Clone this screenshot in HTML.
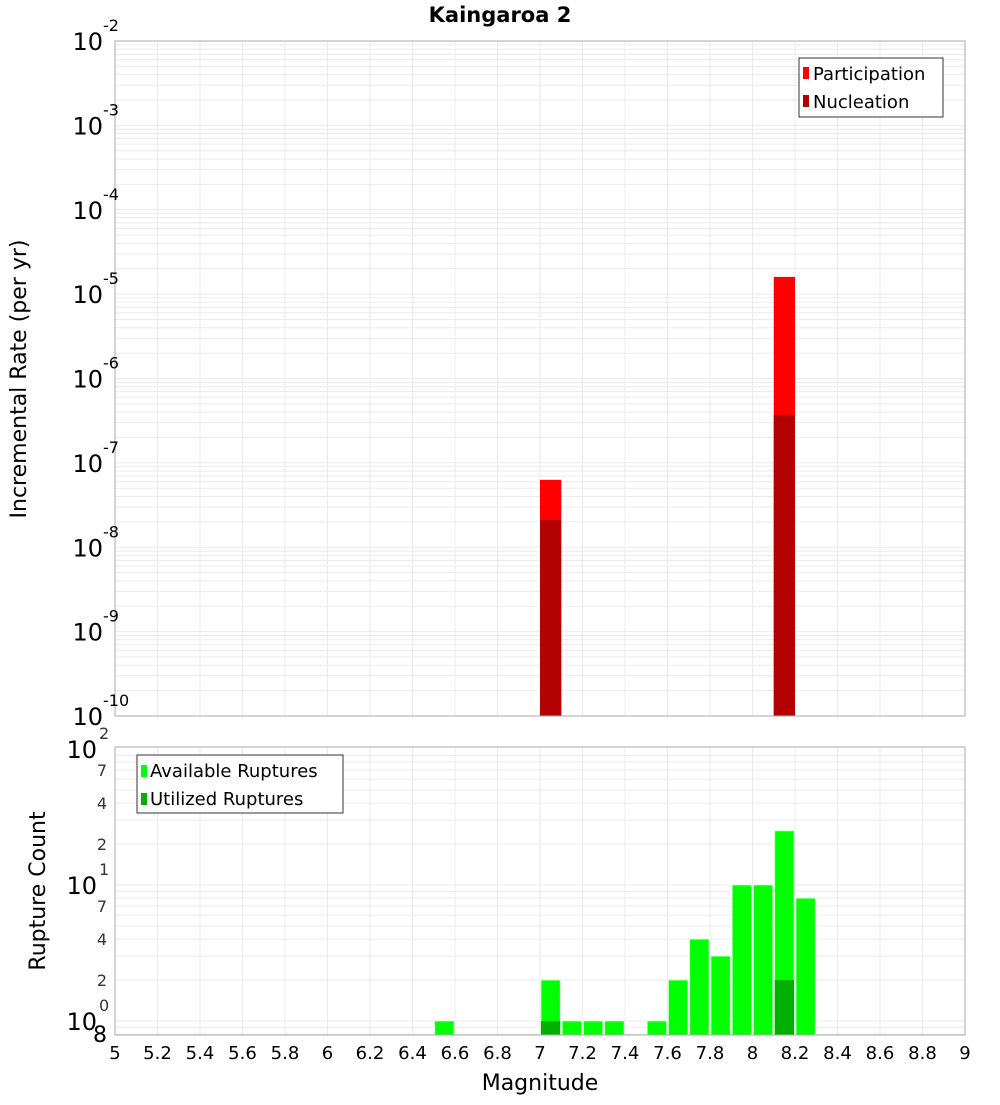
<!DOCTYPE html>
<html><head><meta charset="utf-8"><style>
body{margin:0;background:#fff}
svg{font-family:"DejaVu Sans","Liberation Sans",sans-serif}
</style></head><body>
<svg id="c" width="1000" height="1100" xmlns="http://www.w3.org/2000/svg"></svg>
<script>
const topBins=[7.0,8.1];
const participation=[6.3e-8,1.6e-5];
const nucleation=[2.1e-8,3.7e-7];
const countBins=[6.5,7.0,7.1,7.2,7.3,7.5,7.6,7.7,7.8,7.9,8.0,8.1,8.2];
const available=[1,2,1,1,1,1,2,4,3,10,10,25,8];
const utilBins=[7.0,8.1];
const utilized=[1,2];
const xTicks=[5,5.2,5.4,5.6,5.8,6,6.2,6.4,6.6,6.8,7,7.2,7.4,7.6,7.8,8,8.2,8.4,8.6,8.8,9];
const topDecades=[-2,-3,-4,-5,-6,-7,-8,-9,-10];
const botMinor=[[70,"7"],[40,"4"],[20,"2"],[7,"7"],[4,"4"],[2,"2"],[0.8,"8"]];

const NS="http://www.w3.org/2000/svg";
const svg=document.getElementById('c');
function el(t,a,p){const e=document.createElementNS(NS,t);for(const k in a)e.setAttribute(k,a[k]);(p||svg).appendChild(e);return e;}
const X0=115,X1=965;
const x=v=>X0+(v-5)/4*(X1-X0);
const T0=41,T1=716;
const yT=v=>T1-(Math.log10(v)+10)/8*(T1-T0);
const B0=747,B1=1035;
const yB=v=>1021-Math.log10(v)*136;

// grids
const g=el('g',{});


for(let d=-10;d<-2;d++)for(let m=1;m<10;m++){const y=yT(m*Math.pow(10,d));el('line',{x1:X0,x2:X1,y1:y,y2:y,stroke:'#ebebeb','stroke-width':1},g);}
for(let d=-1;d<2;d++)for(let m=1;m<10;m++){const v=m*Math.pow(10,d);const y=yB(v);if(y<B0||y>B1)continue;el('line',{x1:X0,x2:X1,y1:y,y2:y,stroke:'#ebebeb','stroke-width':1},g);}
xTicks.forEach(t=>{const xx=x(t);el('line',{x1:xx,x2:xx,y1:T0,y2:T1,stroke:'#ebebeb'},g);el('line',{x1:xx,x2:xx,y1:B0,y2:B1,stroke:'#ebebeb'},g);});

const bw=(X1-X0)/40;
// top bars
topBins.forEach((b,i)=>{
 const r=el('rect',{x:x(b),y:yT(participation[i]),width:bw,height:T1-yT(participation[i]),fill:'#ff0000'});
 
 
 const n=el('rect',{x:x(b),y:yT(nucleation[i]),width:bw,height:T1-yT(nucleation[i]),fill:'#b30000'});
 
 
});
// bottom bars
countBins.forEach((b,i)=>{
 const r=el('rect',{x:x(b)+1,y:yB(available[i]),width:bw-2,height:B1-yB(available[i]),fill:'#00ff00',stroke:'#bfffbf','stroke-width':0.8});
 
 
});
utilBins.forEach((b,i)=>{
 const r=el('rect',{x:x(b)+1,y:yB(utilized[i]),width:bw-2,height:B1-yB(utilized[i]),fill:'#00b000'});
 
 
});
// frames
el('rect',{x:X0,y:T0,width:X1-X0,height:T1-T0,fill:'none',stroke:'#aaa'});
el('rect',{x:X0,y:B0,width:X1-X0,height:B1-B0,fill:'none',stroke:'#aaa'});

// top y labels
topDecades.forEach(d=>{
 const y=yT(Math.pow(10,d));
 const t=el('text',{x:103,y:y+9,'text-anchor':'end','font-size':24});
 t.textContent='10';
 
 
 const s=el('text',{x:103,y:y-10,'font-size':16});
 s.textContent=String(d);
 
 
});
// bottom y labels
[0,1,2].forEach(d=>{
 const y=yB(Math.pow(10,d));
 const t=el('text',{x:97,y:y+9,'text-anchor':'end','font-size':24});
 t.textContent='10';
 
 
 const s=el('text',{x:99,y:y-10,'font-size':16,fill:'#333'});
 s.textContent=String(d);
 
 
});
botMinor.forEach(([v,l])=>{
 const y=yB(v);
 const t=el('text',{x:107,y:y+6,'text-anchor':'end','font-size':16,fill:v<1?'#000':'#333'});
 if(v<1){t.setAttribute('font-size',22);t.setAttribute('y',y+8);}
 t.textContent=l;
 
 
});
// x labels
xTicks.forEach(tk=>{
 const t=el('text',{x:x(tk),y:1059,'text-anchor':'middle','font-size':18});
 t.textContent=String(tk);
 
 
});
</script>
<svg width="1000" height="1100" style="position:absolute;left:0;top:0" xmlns="http://www.w3.org/2000/svg">
<text x="500" y="22" text-anchor="middle" font-size="21" font-weight="bold">Kaingaroa 2</text>
<text x="540" y="1090" text-anchor="middle" font-size="22">Magnitude</text>
<text transform="translate(26,379) rotate(-90)" text-anchor="middle" font-size="22">Incremental Rate (per yr)</text>
<text transform="translate(45,891) rotate(-90)" text-anchor="middle" font-size="22">Rupture Count</text>
<g>
<rect x="799" y="58" width="144" height="59" fill="#fff" stroke="#333"/>
<rect x="803" y="67" width="6" height="12" fill="#ff0000"/>
<text x="813" y="80" font-size="18">Participation</text>
<rect x="803" y="95" width="6" height="12" fill="#b30000"/>
<text x="813" y="108" font-size="18">Nucleation</text>
</g>
<g>
<rect x="137" y="755" width="206" height="58" fill="#fff" stroke="#333"/>
<rect x="141" y="765" width="6" height="12" fill="#00ff00"/>
<text x="150" y="777" font-size="18">Available Ruptures</text>
<rect x="141" y="793" width="6" height="12" fill="#00b000"/>
<text x="150" y="805" font-size="18">Utilized Ruptures</text>
</g>
</svg>
</body></html>
